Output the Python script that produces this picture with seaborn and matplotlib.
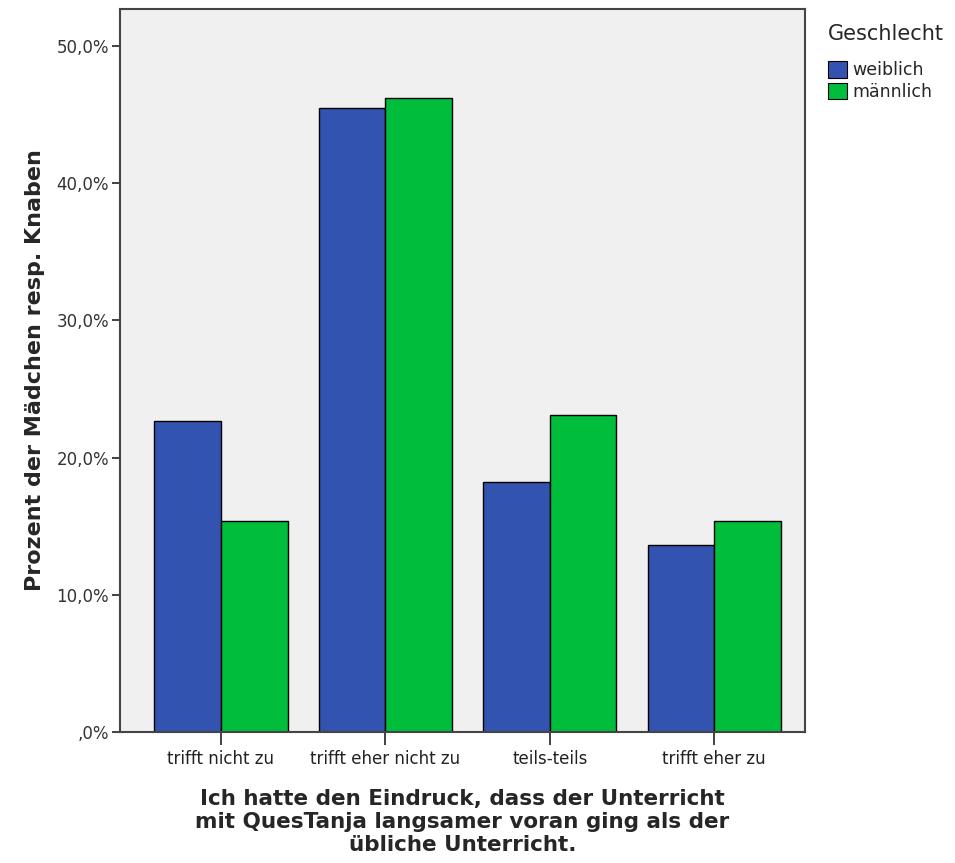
import matplotlib
matplotlib.use("Agg")
import matplotlib.pyplot as plt
import seaborn as sns
import pandas as pd
from matplotlib.patches import Patch

categories = ["trifft nicht zu", "trifft eher nicht zu", "teils-teils", "trifft eher zu"]
weiblich = [22.7, 45.5, 18.2, 13.6]
maennlich = [15.4, 46.2, 23.1, 15.4]
groups = ["weiblich", "männlich"]
ytick_vals = [0, 10, 20, 30, 40, 50]
ytick_labels = [",0%", "10,0%", "20,0%", "30,0%", "40,0%", "50,0%"]
colors = ["#3353B0", "#00BD3C"]

df = pd.DataFrame({
    "cat": categories * 2,
    "val": weiblich + maennlich,
    "Geschlecht": [groups[0]] * 4 + [groups[1]] * 4,
})

sns.set_style("white")
plt.rcParams["font.family"] = ["DejaVu Sans"]

fig = plt.figure(figsize=(9.55, 8.63), dpi=100)
ax = fig.add_axes([0.1257, 0.1518, 0.843 - 0.1257, 0.9896 - 0.1518])
ax.set_facecolor("#F0F0F0")

sns.barplot(data=df, x="cat", y="val", hue="Geschlecht", order=categories,
            hue_order=groups, palette=colors, width=0.81, saturation=1,
            edgecolor="black", linewidth=1.0, ax=ax, legend=False)

ax.set_xlim(-0.614, 3.553)
ax.set_ylim(0, 52.7)
ax.set_yticks(ytick_vals)
ax.set_yticklabels(ytick_labels, fontsize=12, color="#333333")
ax.set_xticks(range(len(categories)))
ax.set_xticklabels(categories, fontsize=12, color="#222222")
ax.tick_params(axis="y", length=6, width=1.3, color="#333333", pad=2, direction="out", left=True)
ax.tick_params(axis="x", length=9, width=1.3, color="#333333", pad=4, direction="out", bottom=True)
for s in ax.spines.values():
    s.set_color("#444444")
    s.set_linewidth(1.5)

ax.set_ylabel("Prozent der Mädchen resp. Knaben", fontsize=16, fontweight="bold", labelpad=8)
ax.set_xlabel("Ich hatte den Eindruck, dass der Unterricht\nmit QuesTanja langsamer voran ging als der\nübliche Unterricht.",
              fontsize=15.5, fontweight="bold", labelpad=15, linespacing=1.2)

handles = [Patch(facecolor=c, edgecolor="black", linewidth=0.8) for c in colors]
leg = fig.legend(handles, groups, title="Geschlecht", loc="upper left",
                 bbox_to_anchor=(0.86, 0.98), frameon=False, fontsize=12.5,
                 title_fontsize=15, handlelength=1.1, handleheight=1.1,
                 handletextpad=0.3, labelspacing=0.2, borderaxespad=0,
                 alignment="left")
leg._legend_box.align = "left"
leg._legend_box.sep = 12

fig.savefig("out.png", dpi=100)
